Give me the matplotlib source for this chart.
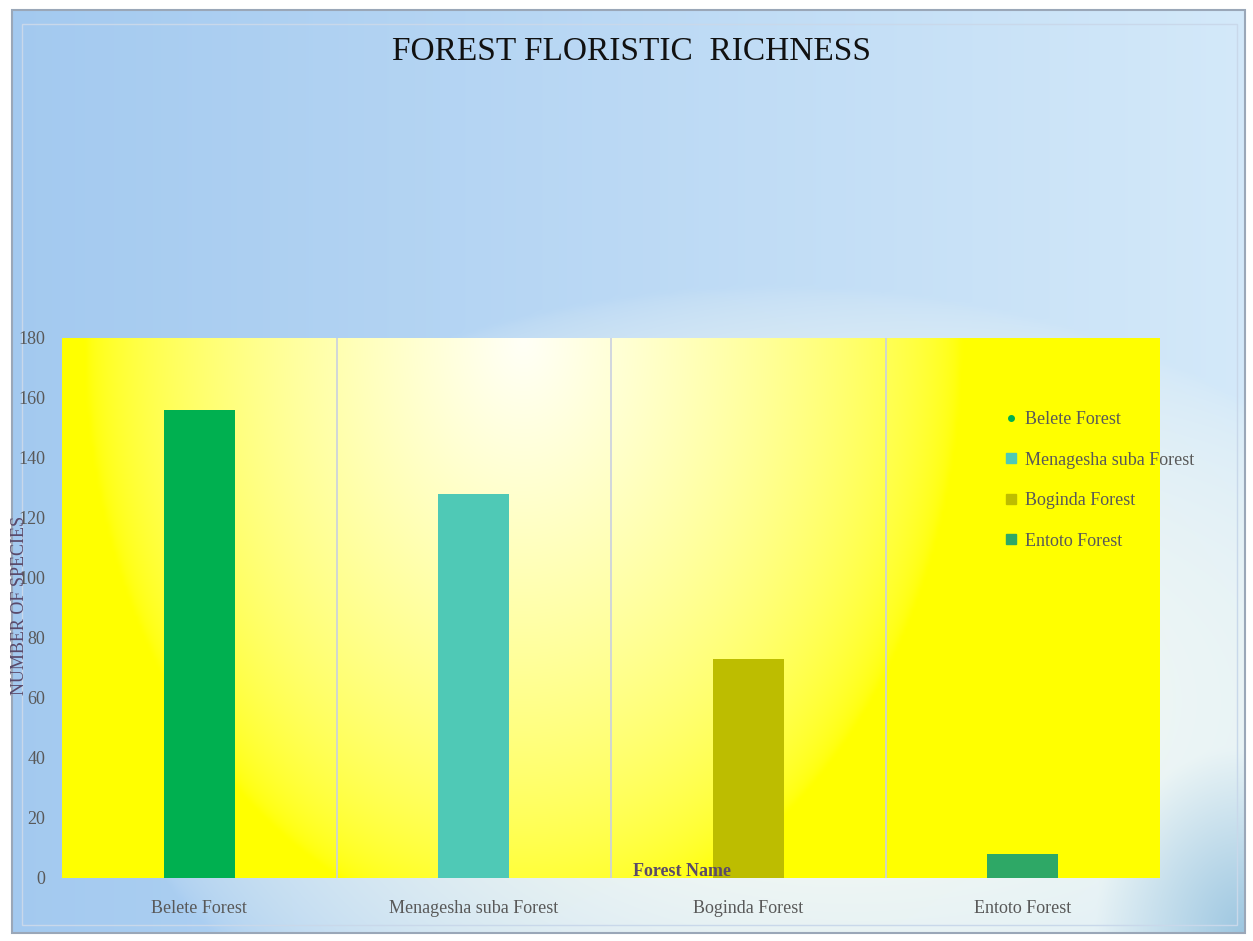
import numpy as np
import matplotlib

matplotlib.use("Agg")
import matplotlib.pyplot as plt
from matplotlib.lines import Line2D
from matplotlib.patches import FancyBboxPatch

forests = ["Belete Forest", "Menagesha suba Forest", "Boginda Forest", "Entoto Forest"]
species = [156, 128, 73, 8]
colors = ["#00b050", "#4fc9b6", "#bdbd00", "#2ea866"]
markers = ["o", "s", "s", "s"]
yticks = [0, 20, 40, 60, 80, 100, 120, 140, 160, 180]

W, H = 1253, 941
fig = plt.figure(figsize=(W / 100, H / 100), dpi=100)
fig.patch.set_facecolor("white")

# blue chart-area background (origin lower: gy=0 is the bottom)
bg = fig.add_axes([0, 0, 1, 1], zorder=-5)
bg.set_xlim(0, 1)
bg.set_ylim(0, 1)
bg.axis("off")
gx, gy = np.meshgrid(np.linspace(0, 1, 300), np.linspace(0, 1, 240))
blue = np.array([0.64, 0.79, 0.94])
light = np.array([0.84, 0.92, 0.98])
white = np.array([1.0, 1.0, 0.95])
t = np.clip(gx * 0.95, 0, 1)[..., None]
img = blue * (1 - t) + light * t
# pale glow behind the plot, strongest low and to the middle/right
d = np.sqrt(((gx - 0.62) / 0.55) ** 2 + ((gy - 0.25) / 0.45) ** 2)
glow = np.clip(1 - d, 0, 1)[..., None] ** 0.6
img = img * (1 - glow) + white * glow
# blue corner at bottom right
dc = np.sqrt(((gx - 1.0) / 0.12) ** 2 + ((gy - 0.0) / 0.2) ** 2)
cg = np.clip(1 - dc, 0, 1)[..., None]
img = img * (1 - cg) + np.array([0.62, 0.78, 0.88]) * cg
bg.imshow(img, extent=(12 / W, 1 - 8 / W, 8 / H, 1 - 10 / H), origin="lower",
          aspect="auto", interpolation="bicubic")
bg.add_patch(FancyBboxPatch((12 / W, 8 / H), 1 - 20 / W, 1 - 18 / H,
                            boxstyle="square,pad=0", fill=False,
                            edgecolor="#9aa7b8", linewidth=1.5))
bg.add_patch(FancyBboxPatch((22 / W, 16 / H), 1 - 38 / W, 1 - 40 / H,
                            boxstyle="square,pad=0", fill=False,
                            edgecolor="#c9d8ea", linewidth=1.0))

ax = fig.add_axes([62 / W, 63 / H, (1160 - 62) / W, (878 - 338) / H])
x = np.arange(len(forests))

# yellow plot-area fill, white near the top of the second panel
px, py = np.meshgrid(np.linspace(0, 1, 300), np.linspace(0, 1, 200))
dy = np.sqrt(((px - 0.42) / 0.4) ** 2 + ((py - 0.0) / 1.1) ** 2)
w = np.clip(1 - dy, 0, 1)[..., None] ** 0.6
yel = np.array([1.0, 1.0, 0.0])
pimg = yel * (1 - w) + np.array([1.0, 1.0, 0.97]) * w
ax.imshow(pimg, extent=(-0.5, 3.5, 0, 180), origin="upper", aspect="auto",
          interpolation="bicubic", zorder=0)
for sep in [0.5, 1.5, 2.5]:
    ax.axvline(sep, color="#c9cfe0", linewidth=1.2, zorder=1)

ax.bar(x, species, width=0.26, color=colors, zorder=2)
ax.set_xlim(-0.5, 3.5)
ax.set_ylim(0, 180)
ax.set_yticks(yticks)
ax.set_xticks(x)
ax.set_xticklabels(forests)
for s in ax.spines.values():
    s.set_visible(False)
ax.tick_params(length=0, labelsize=13, labelcolor="#595959")
ax.tick_params(axis="y", pad=12)
ax.tick_params(axis="x", pad=16)
for lab in ax.get_xticklabels() + ax.get_yticklabels():
    lab.set_family("Liberation Serif")

fig.text(682 / W, 1 - 872 / H, "Forest Name", ha="center", va="center",
         fontsize=13, fontweight="bold", color="#5a4a6a", family="Liberation Serif")
fig.text(20 / W, 1 - 605 / H, "NUMBER OF SPECIES", rotation=90, ha="center",
         va="center", fontsize=13, color="#5a4a6a", family="Liberation Serif")

fig.text(631 / W, 1 - 52 / H, "FOREST FLORISTIC  RICHNESS", ha="center",
         va="center", fontsize=24, color="#111111", family="Liberation Serif")

handles = [Line2D([], [], linestyle="none", marker=m, color=c,
                  markersize=(4 if m == "o" else 7)) for m, c in zip(markers, colors)]
fig.legend(handles, forests, loc="upper left",
           bbox_to_anchor=(998 / W, 1 - 404 / H), frameon=False,
           prop={"family": "Liberation Serif", "size": 13},
           labelcolor="#595959", labelspacing=1.3, handlelength=0.6,
           handletextpad=0.5, borderaxespad=0)

fig.savefig("out.png", dpi=100)
